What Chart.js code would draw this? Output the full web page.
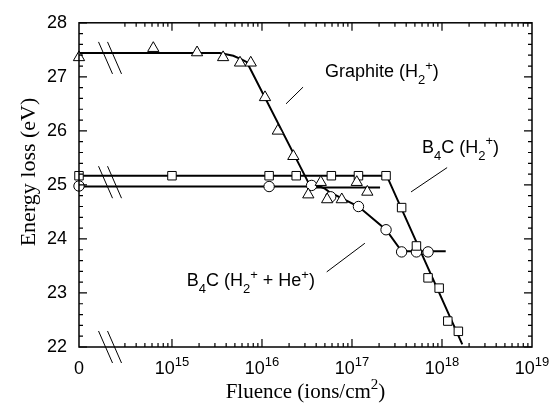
<!DOCTYPE html>
<html>
<head>
<meta charset="utf-8">
<script src="https://cdn.jsdelivr.net/npm/chart.js@4/dist/chart.umd.min.js"></script>
<style>
  html, body { margin: 0; padding: 0; background: #fff; }
  canvas { display: block; }
</style>
</head>
<body>
<canvas id="chart" width="553" height="406"></canvas>
<script>
// fluence values in ions/cm2; 0 sits on the left edge of the broken axis
const graphiteX = [0, 6.2e14, 1.9e15, 3.7e15, 5.7e15, 7.5e15, 1.08e16, 1.5e16, 2.23e16, 3.27e16, 4.5e16, 5.3e16, 7.7e16, 1.13e17, 1.48e17];
const graphiteY = [27.36, 27.53, 27.45, 27.36, 27.26, 27.26, 26.62, 26.0, 25.53, 24.82, 25.05, 24.73, 24.73, 25.05, 24.87];

const b4cH2X = [0, 1.0e15, 1.2e16, 2.4e16, 5.9e16, 1.18e17, 2.39e17, 3.56e17, 5.2e17, 7.0e17, 9.3e17, 1.16e18, 1.52e18];
const b4cH2Y = [25.17, 25.17, 25.17, 25.17, 25.17, 25.17, 25.17, 24.58, 23.87, 23.28, 23.09, 22.48, 22.29];

const b4cHeX = [0, 1.2e16, 3.56e16, 5.8e16, 1.18e17, 2.39e17, 3.56e17, 5.2e17, 7.0e17];
const b4cHeY = [24.98, 24.97, 24.99, 24.78, 24.6, 24.17, 23.76, 23.76, 23.76];

// hand-drawn fit curves
const graphiteFitX = [0, 3.4e15, 4.8e15, 6.0e15, 6.8e15, 3.5e16, 2.05e17];
const graphiteFitY = [27.44, 27.44, 27.39, 27.32, 27.27, 24.95, 24.95];
const b4cH2FitX = [0, 2.43e17, 1.68e18];
const b4cH2FitY = [25.17, 25.17, 22.05];
const b4cHeFitX = [0, 4.4e16, 5.0e16, 5.7e16, 1.18e17, 2.39e17, 3.56e17, 1.1e18];
const b4cHeFitY = [24.97, 24.97, 24.93, 24.86, 24.6, 24.17, 23.77, 23.77];

const xTicks = [0, 1e15, 1e16, 1e17, 1e18, 1e19];
const xTickLabels = ['0', '10^{15}', '10^{16}', '10^{17}', '10^{18}', '10^{19}'];
const yMin = 22, yMax = 28;

const SANS = '"Liberation Sans", Arial, Helvetica, sans-serif';
const SERIF = '"Liberation Serif", "Times New Roman", Times, serif';

// the "0" point is drawn at the lower end of the log axis
const XMIN = Math.pow(10, 13.967);
const XMAX = 1e19;
const toX = v => (v === 0 ? XMIN : v);
const pts = (xa, ya) => xa.map((x, i) => ({ x: toX(x), y: ya[i] }));

// text labels in the plot, placed in data coordinates
const notes = [
  { text: 'Graphite (H_{2}^{+})', x: 5.0e16, y: 26.99, from: [1.85e16, 26.5], to: [2.86e16, 26.81] },
  { text: 'B_{4}C (H_{2}^{+})', x: 6.0e17, y: 25.59, from: [4.53e17, 24.87], to: [1.14e18, 25.32] },
  { text: 'B_{4}C (H_{2}^{+} + He^{+})', x: 1.46e15, y: 23.12, from: [5.24e16, 23.39], to: [1.39e17, 23.92] }
];
const breakX = 2.05e14;
const breakYs = [27.35, 25.05, 22];

function parseRich(str) {
  const parts = [];
  const re = /_\{([^}]*)\}|\^\{([^}]*)\}|([^_^]+)/g;
  let m;
  while ((m = re.exec(str))) {
    if (m[1] !== undefined) parts.push({ t: m[1], s: 'sub' });
    else if (m[2] !== undefined) parts.push({ t: m[2], s: 'sup' });
    else parts.push({ t: m[3] });
  }
  return parts;
}

function drawRich(ctx, x, y, str, size, family, align) {
  const parts = parseRich(str);
  const small = Math.round(size * 0.7);
  let w = 0;
  parts.forEach(p => {
    ctx.font = (p.s ? small : size) + 'px ' + family;
    p.w = ctx.measureText(p.t).width;
    w += p.w;
  });
  let cx = align === 'center' ? x - w / 2 : x;
  ctx.textAlign = 'left';
  ctx.textBaseline = 'alphabetic';
  parts.forEach(p => {
    ctx.font = (p.s ? small : size) + 'px ' + family;
    let dy = 0;
    if (p.s === 'sub') dy = size * 0.36;
    if (p.s === 'sup') dy = -size * 0.42;
    ctx.fillText(p.t, cx, y + dy);
    cx += p.w;
  });
}

const framePlugin = {
  id: 'frame',
  afterDraw(chart) {
    const ctx = chart.ctx;
    const xs = chart.scales.x, ys = chart.scales.y;
    const a = chart.chartArea;
    ctx.save();
    ctx.strokeStyle = '#000';
    ctx.fillStyle = '#000';
    ctx.lineWidth = 1.5;
    ctx.strokeRect(a.left, a.top, a.right - a.left, a.bottom - a.top);

    // inward ticks, all four sides
    ctx.lineWidth = 1.2;
    ctx.beginPath();
    for (let k = 0; k <= (yMax - yMin) * 5; k++) {
      const v = yMin + k * 0.2;
      const py = ys.getPixelForValue(v);
      const len = k % 5 === 0 ? 8 : 4;
      ctx.moveTo(a.left, py); ctx.lineTo(a.left + len, py);
      ctx.moveTo(a.right, py); ctx.lineTo(a.right - len, py);
    }
    for (let e = 14; e <= 18; e++) {
      for (let m = 1; m <= 9; m++) {
        if (e === 14 && m < 3) continue;
        const v = Number(m + 'e' + e);
        const px = xs.getPixelForValue(v);
        const len = m === 1 ? 8 : 4;
        ctx.moveTo(px, a.bottom); ctx.lineTo(px, a.bottom - len);
        ctx.moveTo(px, a.top); ctx.lineTo(px, a.top + len);
      }
    }
    ctx.stroke();

    // axis break marks
    ctx.lineWidth = 1;
    ctx.beginPath();
    const bx = xs.getPixelForValue(breakX);
    breakYs.forEach(v => {
      const by = ys.getPixelForValue(v);
      [-4.5, 4.5].forEach(off => {
        ctx.moveTo(bx + off - 7, by - 16);
        ctx.lineTo(bx + off + 7, by + 16);
      });
    });
    ctx.stroke();

    // x tick labels
    xTicks.forEach((v, i) => {
      drawRich(ctx, xs.getPixelForValue(toX(v)), a.bottom + 27, xTickLabels[i], 18, SANS, 'center');
    });

    // axis titles
    drawRich(ctx, (a.left + a.right) / 2, 398, 'Fluence (ions/cm^{2})', 21, SERIF, 'center');
    ctx.save();
    ctx.translate(35, 172);
    ctx.rotate(-Math.PI / 2);
    drawRich(ctx, 0, 0, 'Energy loss (eV)', 22, SERIF, 'center');
    ctx.restore();

    // series labels with leader lines
    ctx.lineWidth = 1;
    ctx.beginPath();
    notes.forEach(n => {
      ctx.moveTo(xs.getPixelForValue(n.from[0]), ys.getPixelForValue(n.from[1]));
      ctx.lineTo(xs.getPixelForValue(n.to[0]), ys.getPixelForValue(n.to[1]));
    });
    ctx.stroke();
    notes.forEach(n => {
      drawRich(ctx, xs.getPixelForValue(n.x), ys.getPixelForValue(n.y), n.text, 18, SANS, 'left');
    });
    ctx.restore();
  }
};

const markerStyle = {
  showLine: false,
  backgroundColor: '#fff',
  borderColor: '#000',
  borderWidth: 1,
  clip: false
};
const fitStyle = {
  showLine: true,
  pointRadius: 0,
  borderColor: '#000',
  borderWidth: 2,
  fill: false
};

new Chart(document.getElementById('chart'), {
  type: 'scatter',
  data: {
    datasets: [
      Object.assign({ label: 'Graphite (H2+)', data: pts(graphiteX, graphiteY), pointStyle: 'triangle', pointRadius: 6.5 }, markerStyle),
      Object.assign({ label: 'B4C (H2+)', data: pts(b4cH2X, b4cH2Y), pointStyle: 'rect', pointRadius: 6 }, markerStyle),
      Object.assign({ label: 'B4C (H2+ + He+)', data: pts(b4cHeX, b4cHeY), pointStyle: 'circle', pointRadius: 5.2 }, markerStyle),
      Object.assign({ label: 'Graphite fit', data: pts(graphiteFitX, graphiteFitY) }, fitStyle),
      Object.assign({ label: 'B4C (H2+) fit', data: pts(b4cH2FitX, b4cH2FitY) }, fitStyle),
      Object.assign({ label: 'B4C (H2+ + He+) fit', data: pts(b4cHeFitX, b4cHeFitY) }, fitStyle)
    ]
  },
  options: {
    responsive: false,
    animation: false,
    devicePixelRatio: 1,
    layout: { padding: { top: 15, right: 21, bottom: 59, left: 0 } },
    plugins: { legend: { display: false }, tooltip: { enabled: false } },
    scales: {
      x: { type: 'logarithmic', min: XMIN, max: XMAX, display: false },
      y: {
        type: 'linear',
        min: yMin,
        max: yMax,
        ticks: { stepSize: 1, color: '#000', padding: 12, font: { family: SANS, size: 18 } },
        grid: { display: false, drawTicks: false },
        border: { display: false },
        afterFit: s => { s.width = 79; }
      }
    }
  },
  plugins: [framePlugin]
});
</script>
</body>
</html>
